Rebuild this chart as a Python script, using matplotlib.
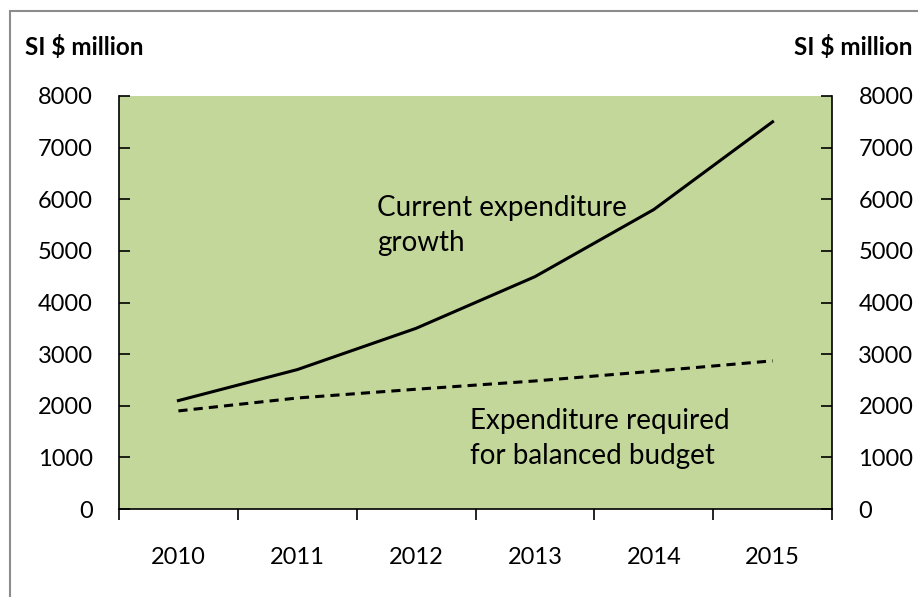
import matplotlib.pyplot as plt
from matplotlib.patches import Rectangle

years = ["2010", "2011", "2012", "2013", "2014", "2015"]
current_growth = [2100, 2700, 3500, 4500, 5800, 7500]
balanced_budget = [1900, 2150, 2320, 2480, 2670, 2870]
y_ticks = [0, 1000, 2000, 3000, 4000, 5000, 6000, 7000, 8000]

plt.rcParams['font.family'] = ['Lato', 'DejaVu Sans']


def main():
    fig = plt.figure(figsize=(9.18, 5.97), dpi=100)
    W, H = 918, 597
    ax = fig.add_axes([119 / W, 1 - 509 / H, (832 - 119) / W, (509 - 96) / H])
    ax.set_facecolor("#C4D79B")

    x = list(range(len(years)))
    ax.plot(x, current_growth, color="black", lw=2.2)
    ax.plot(x, balanced_budget, color="black", lw=2.2, linestyle=(0, (3, 2)))

    ax.set_xlim(-0.5, len(years) - 0.5)
    ax.set_ylim(0, 8000)
    ax.set_yticks(y_ticks)
    ax.tick_params(axis="y", direction="in", length=8, width=1.2, labelsize=17,
                   left=True, right=True, labelleft=True, labelright=True)
    ax.yaxis.set_tick_params(pad=19)
    # category boundaries carry the x ticks, labels sit in the middle
    ax.set_xticks([i - 0.5 for i in range(len(years) + 1)])
    ax.set_xticklabels([""] * (len(years) + 1))
    ax.set_xticks(x, minor=True)
    ax.set_xticklabels(years, minor=True)
    ax.tick_params(axis="x", which="major", direction="out", length=8, width=1.2)
    ax.tick_params(axis="x", which="minor", length=0, labelsize=17, pad=27)
    ax.spines["top"].set_visible(False)
    for s in ("left", "right", "bottom"):
        ax.spines[s].set_linewidth(1.2)

    ax.text(1.668, 5494, "Current expenditure\ngrowth", fontsize=20, va="center",
            ha="left", linespacing=1.45)
    ax.text(2.45, 1366, "Expenditure required\nfor balanced budget", fontsize=20,
            va="center", ha="left", linespacing=1.45)

    fig.text(25 / W, 1 - 47 / H, "SI $ million", fontsize=17.5, fontweight="bold",
             va="center", ha="left")
    fig.text(912 / W, 1 - 47 / H, "SI $ million", fontsize=17.5, fontweight="bold",
             va="center", ha="right")

    fig.patches.append(Rectangle((10 / W, -0.1), 1.0, 1 - 11 / H + 0.1,
                                 transform=fig.transFigure, fill=False,
                                 edgecolor="#8c8c8c", lw=1.5))
    fig.savefig("out.png", dpi=100)


if __name__ == "__main__":
    main()
